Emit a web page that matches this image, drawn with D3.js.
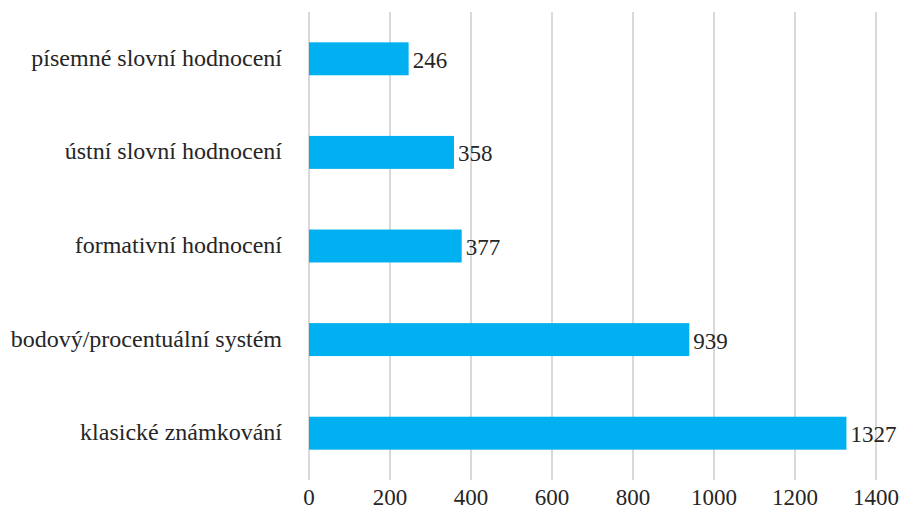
<!DOCTYPE html>
<html>
<head>
<meta charset="utf-8">
<script src="https://cdn.jsdelivr.net/npm/d3@7"></script>
<style>
  body { margin: 0; background: #fff; }
  text { font-family: "Liberation Serif", "Times New Roman", serif; }
</style>
</head>
<body>
<div id="chart"></div>
<script>
// data
var categories = ["písemné slovní hodnocení", "ústní slovní hodnocení", "formativní hodnocení",
                  "bodový/procentuální systém", "klasické známkování"];
var values = [246, 358, 377, 939, 1327];
var ticks = [0, 200, 400, 600, 800, 1000, 1200, 1400];

var width = 901, height = 510;
// plot area ("top" is reserved on window, so use a small object)
var plot = {left: 309, right: 876, top: 12, bottom: 480};
var fontSize = "23px";

var svg = d3.select("#chart").append("svg")
    .attr("width", width)
    .attr("height", height);

var x = d3.scaleLinear().domain([0, 1400]).range([plot.left, plot.right]);
var y = d3.scaleBand().domain(categories).range([plot.top, plot.bottom])
    .paddingInner(0.648).paddingOuter(0.324);

// gridlines
svg.selectAll("line.grid")
    .data(ticks)
    .enter().append("line")
    .attr("class", "grid")
    .attr("x1", function (d) { return x(d); })
    .attr("x2", function (d) { return x(d); })
    .attr("y1", plot.top)
    .attr("y2", plot.bottom)
    .attr("stroke", "#d9d9d9")
    .attr("stroke-width", 2);

// bars
svg.selectAll("rect.bar")
    .data(values)
    .enter().append("rect")
    .attr("class", "bar")
    .attr("x", x(0))
    .attr("y", function (d, i) { return y(categories[i]); })
    .attr("width", function (d) { return x(d) - x(0); })
    .attr("height", y.bandwidth())
    .attr("fill", "#00b0f0");

// value labels
svg.selectAll("text.val")
    .data(values)
    .enter().append("text")
    .attr("class", "val")
    .attr("x", function (d) { return x(d) + 4; })
    .attr("y", function (d, i) { return y(categories[i]) + y.bandwidth() / 2 + 9; })
    .attr("font-size", fontSize)
    .attr("fill", "#262626")
    .text(function (d) { return d; });

// category labels
svg.selectAll("text.cat")
    .data(categories)
    .enter().append("text")
    .attr("class", "cat")
    .attr("x", plot.left - 27)
    .attr("y", function (d) { return y(d) + y.bandwidth() / 2 + 7; })
    .attr("text-anchor", "end")
    .attr("font-size", "24px")
    .attr("fill", "#262626")
    .text(function (d) { return d; });

// x axis tick labels
svg.selectAll("text.tick")
    .data(ticks)
    .enter().append("text")
    .attr("class", "tick")
    .attr("x", function (d) { return x(d); })
    .attr("y", 505)
    .attr("text-anchor", "middle")
    .attr("font-size", fontSize)
    .attr("fill", "#262626")
    .text(function (d) { return d; });
</script>
</body>
</html>
